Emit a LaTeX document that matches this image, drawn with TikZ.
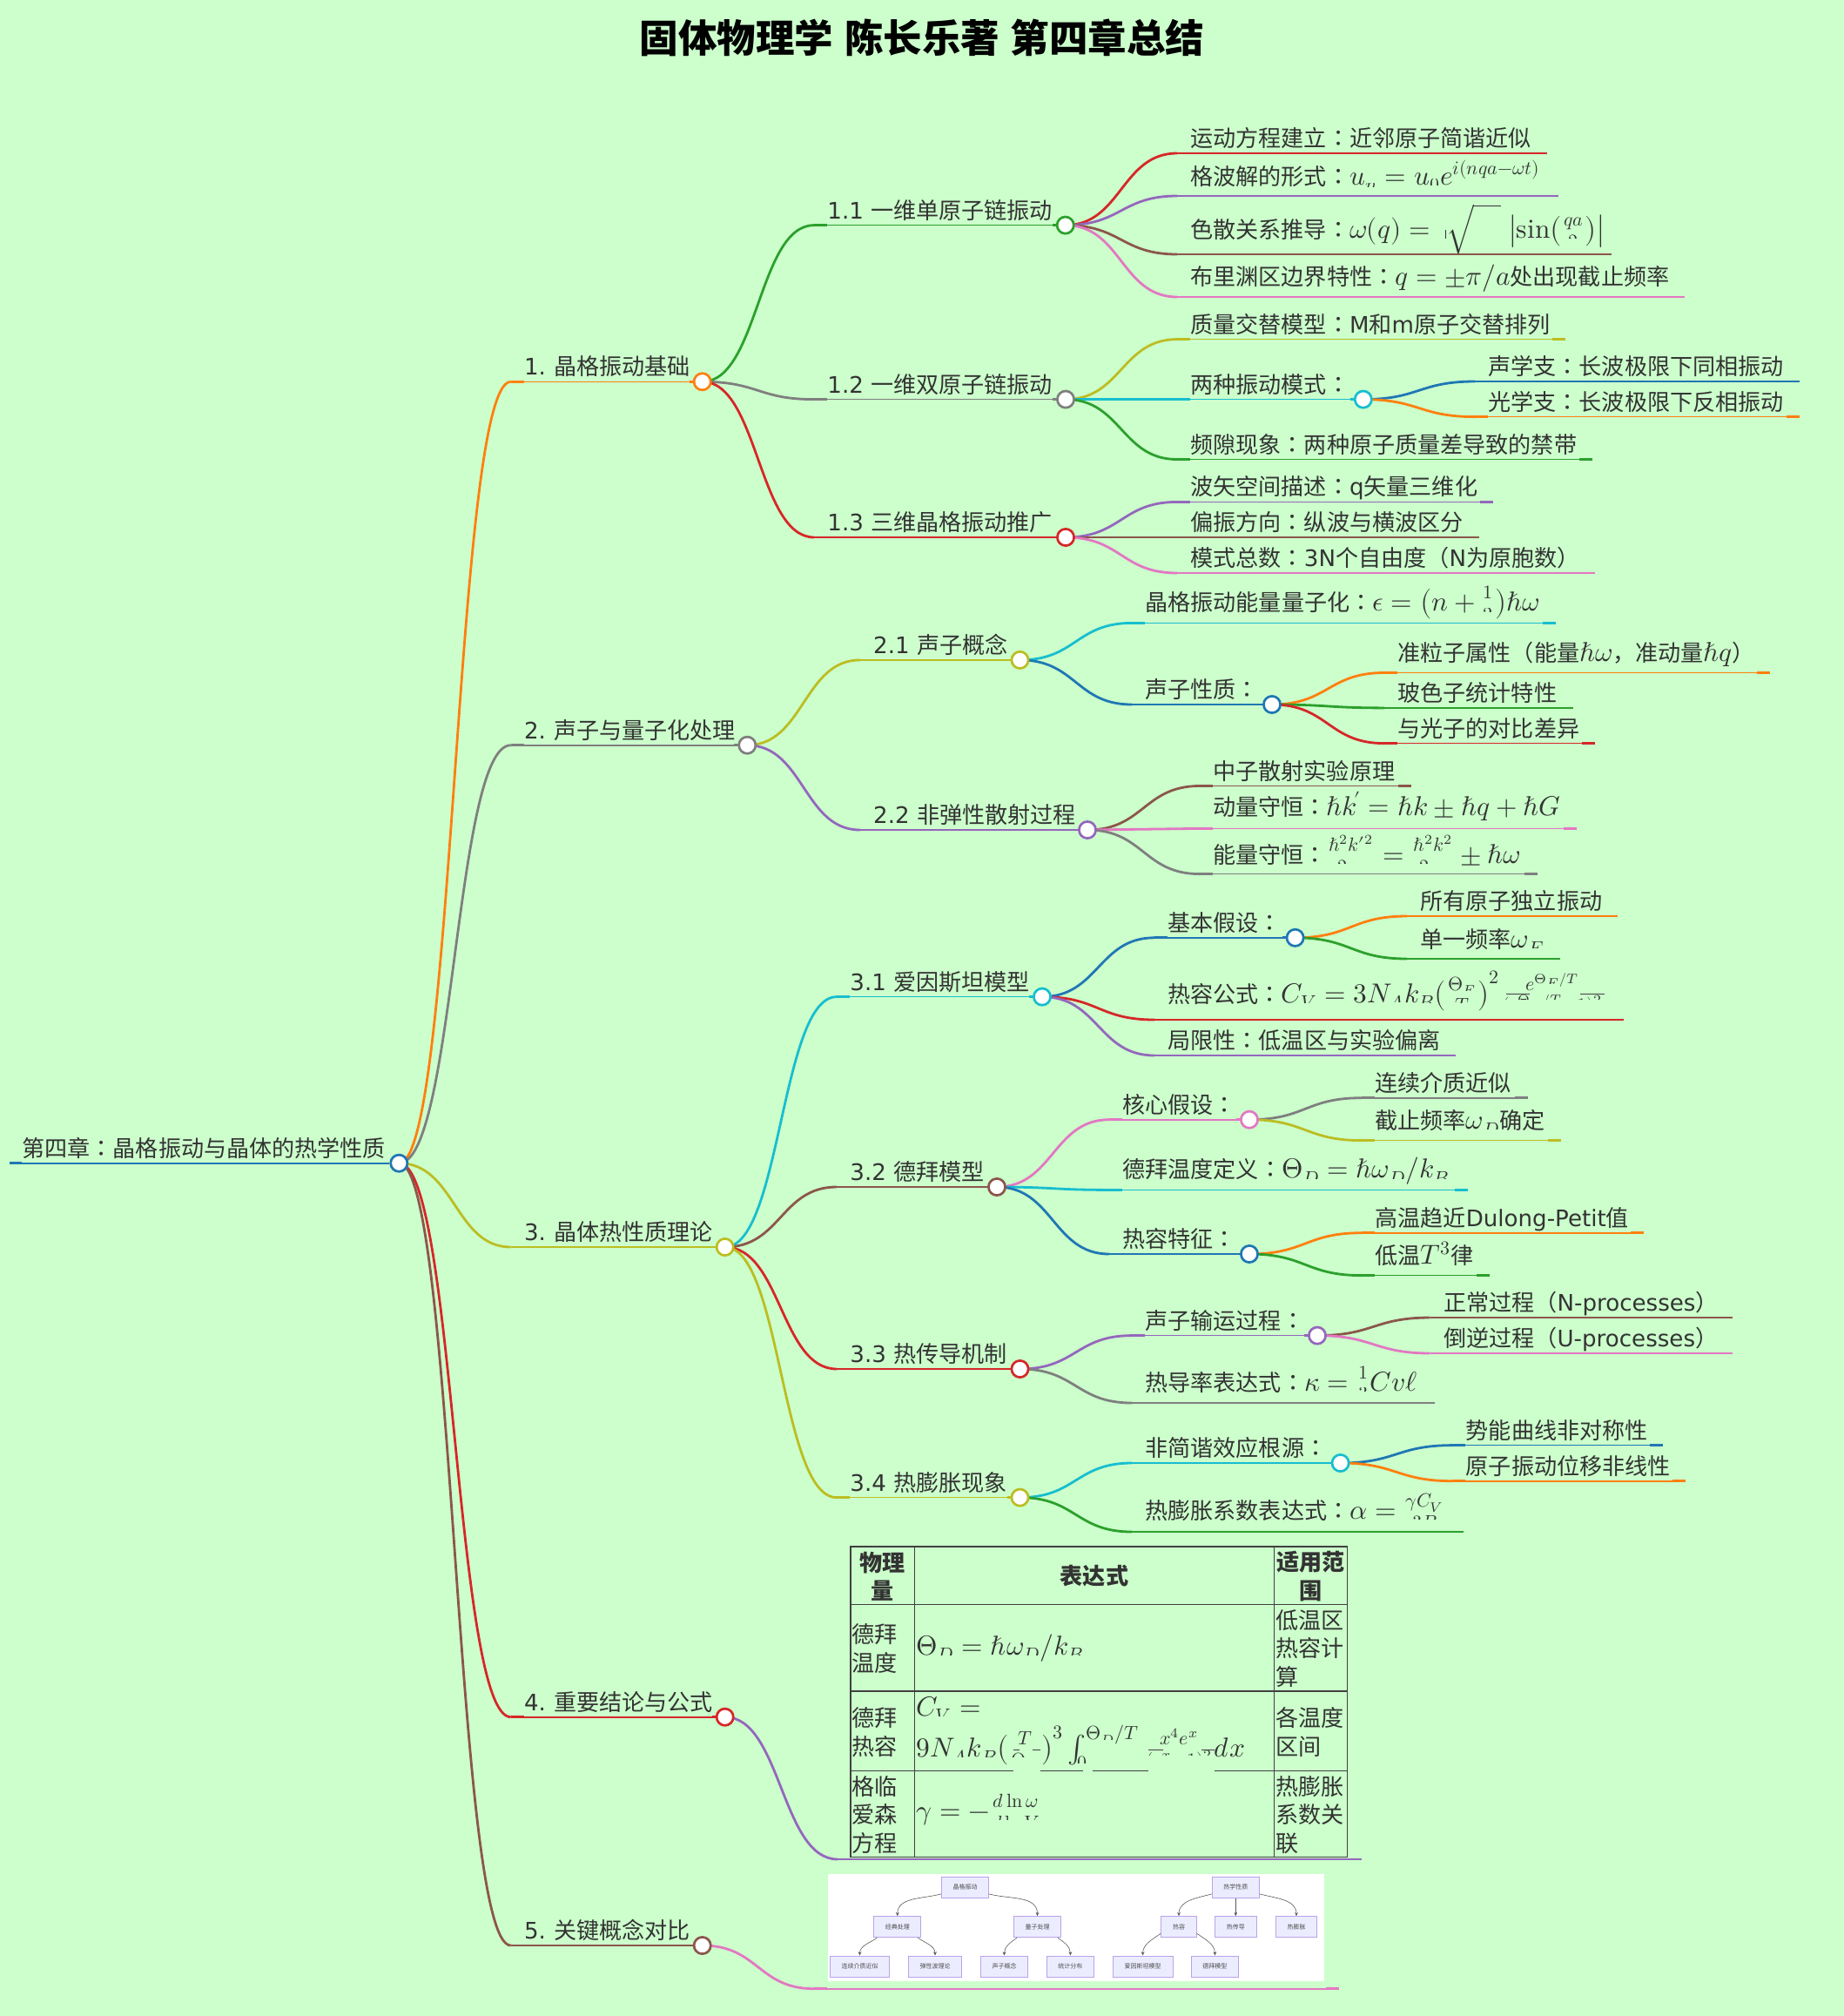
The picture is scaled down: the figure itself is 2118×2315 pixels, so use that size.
\documentclass[tikz,border=0pt]{standalone}
\usepackage{amsmath}
\usepackage{trimclip}
\usepackage{fontspec}
\usepackage{unicode-math}
\setmathfont{Latin Modern Math}
\setmainfont{Noto Sans CJK SC}
\newfontfamily\dejavu{DejaVu Sans}
\newfontfamily\tcfont{Noto Sans CJK TC}
\usetikzlibrary{calc,arrows.meta}
\pgfdeclarelayer{links}
\pgfsetlayers{links,main}

\definecolor{mmbg}{HTML}{CCFFCC}
\definecolor{mmblue}{HTML}{1F77B4}
\definecolor{mmorange}{HTML}{FF7F0E}
\definecolor{mmgreen}{HTML}{2CA02C}
\definecolor{mmred}{HTML}{D62728}
\definecolor{mmpurple}{HTML}{9467BD}
\definecolor{mmbrown}{HTML}{8C564B}
\definecolor{mmpink}{HTML}{E377C2}
\definecolor{mmgrey}{HTML}{7F7F7F}
\definecolor{mmolive}{HTML}{BCBD22}
\definecolor{mmcyan}{HTML}{17BECF}
\definecolor{boxfill}{HTML}{ECECFF}
\definecolor{boxline}{HTML}{B9A3EB}

\tikzset{
	linkline/.style={line width=1.4pt},
	stub/.style={line width=1.4pt},
	underline/.style={line width=0.8pt},
	dot/.style={circle,fill=white,line width=1.35pt,inner sep=0pt,minimum size=9.6pt},
	lbl/.style={anchor=base west,inner sep=0pt,text=black!80,font=\fontsize{13.05}{16.25}\selectfont},
	cell/.style={inner sep=0pt,text=black!80,font=\fontsize{13.05}{16.25}\selectfont},
	gridline/.style={line width=0.75pt,color=black!75},
	fracbar/.style={line width=0.45pt,color=black!75},
	minibox/.style={draw=boxline,fill=boxfill,line width=0.5pt,inner sep=0pt,minimum height=12pt,text=black!70,font=\fontsize{3.5}{4}\selectfont},
	miniedge/.style={line width=0.3pt,color=black!65,-{Stealth[length=2.2pt,width=1.9pt]}}
}

\newcommand{\la}[1]{{\dejavu #1}}
\newcommand{\cln}{{\tcfont ：}}
\newcommand{\fm}[1]{{\fontsize{15.7}{19}\selectfont$#1$}}
% cut text: only the upper part of a small symbol is printed
\newsavebox{\tcbox}
\newlength{\tcdim}
\def\cutr{.5}
\newcommand{\tcutaux}[2]{\sbox\tcbox{$#1#2$}\dp\tcbox=0pt\setlength{\tcdim}{\cutr\ht\tcbox}\raisebox{\tcdim}{\clipbox{0pt {\tcdim} 0pt 0pt}{\usebox\tcbox}}}
\newcommand{\tcut}[1]{\mathpalette\tcutaux{#1}}
\newcommand{\halffrac}[2]{\genfrac{}{}{0pt}{}{#1}{\def\cutr{.72}\tcut{#2}}}

\newcommand{\linkto}[3]{\coordinate (mid) at ($(#2.center)!.5!(#3)$);
	\draw[linkline,#1] (#2.center) .. controls (mid |- #2.center) and (mid |- #3) .. (#3);}
\newcommand{\stem}[6]{\coordinate (#1s) at (#4-15,#5);
	\coordinate (#1x) at (#4,#5);
	\coordinate (#1y) at (#6-15,#5);
	\coordinate (#1e) at (#6,#5);
	\begin{pgfonlayer}{links}
		\linkto{#3}{#2}{#1s}
		\draw[stub,#3] (#1s) -- (#1x);
		\draw[underline,#3] (#1x) -- (#1y);
		\draw[stub,#3] (#1y) -- (#1e);
	\end{pgfonlayer}}
\newcommand{\leafnode}[8][7.5]{\stem{#2}{#3}{#4}{#5}{#6}{#7}
	\node[lbl] (#2t) at (#5,#6-#1) {#8};}
\newcommand{\branch}[7]{\stem{#1}{#2}{#3}{#4}{#5}{#6}
	\node[dot,draw=#3] (#1) at (#6,#5) {};
	\node[lbl] (#1t) at (#4,#5-7.5) {#7};}

\begin{document}
\begin{tikzpicture}[x=0.5pt,y=-0.5pt]
	\begin{pgfonlayer}{links}
		\fill[mmbg] (0,0) rectangle (2118,2315);
	\end{pgfonlayer}
	\useasboundingbox (0,0) rectangle (2118,2315);

	\node[inner sep=0pt,text=black,font=\fontsize{22.25}{26}\selectfont\bfseries,anchor=base] (title) at (1059,60.5) {固体物理学\hspace{6.5pt}陈长乐著\hspace{6.5pt}第四章总结};

	%%%%% ROOT %%%%%
	\node[dot,draw=mmblue] (root) at (458.3,1335.7) {};
	\coordinate (roots) at (11,1335.7);
	\coordinate (rootx) at (25,1335.7);
	\draw[stub,mmblue] (roots) -- (rootx);
	\draw[underline,mmblue] (rootx) -- (root);
	\node[lbl] (roott) at (25,1328) {第四章\cln 晶格振动与晶体的热学性质};

	%%%%% 1 %%%%%
	\branch{a}{root}{mmorange}{601.7}{438.3}{806.7}{\la{1. }\hspace{-1pt}晶格振动基础}
	\branch{aa}{a}{mmgreen}{950}{258.6}{1223.7}{\la{1.1 }一维单原子链振动}
	\leafnode{aaa}{aa}{mmred}{1367}{176}{1777}{运动方程建立\cln 近邻原子简谐近似}
	\leafnode[13]{aab}{aa}{mmpurple}{1367}{225}{1790}{格波解的形式\cln \fm{u_{\tcut{n}}=u_{\tcut{0}}e^{i(nqa-\omega t)}}}
	\leafnode[18.5]{aac}{aa}{mmbrown}{1367}{292}{1850.5}{色散关系推导\cln \fm{\omega(q)=\mkern5mu\mathord{\rule{.5pt}{5pt}}\sqrt{\vphantom{\frac{4}{M}}\hspace{16pt}}\;\bigl|\mathop{\symup{sin}}\bigl(\halffrac{qa}{2}\bigr)\bigr|}}
	\leafnode[13.5]{aad}{aa}{mmpink}{1367}{341}{1934.7}{布里渊区边界特性\cln \fm{q=\pm\pi/a}处出现截止频率}

	\branch{ab}{a}{mmgrey}{950}{458.6}{1224}{\la{1.2 }一维双原子链振动}
	\leafnode{aba}{ab}{mmolive}{1367}{389.6}{1798}{质量交替模型\cln \la{M}和\la{m}原子交替排列}
	\branch{abb}{ab}{mmcyan}{1367}{458.6}{1565.8}{两种振动模式\cln}
	\leafnode{abba}{abb}{mmblue}{1709}{438}{2067}{声学支\cln 长波极限下同相振动}
	\leafnode{abbb}{abb}{mmorange}{1709}{478.6}{2067}{光学支\cln 长波极限下反相振动}
	\leafnode{abc}{ab}{mmgreen}{1367}{527.5}{1829}{频隙现象\cln 两种原子质量差导致的禁带}

	\branch{ac}{a}{mmred}{950}{617}{1224}{\la{1.3 }三维晶格振动推广}
	\leafnode{aca}{ac}{mmpurple}{1367}{576.4}{1715}{波矢空间描述\cln \la{q}矢量三维化}
	\leafnode{acb}{ac}{mmbrown}{1367}{617}{1699}{偏振方向\cln 纵波与横波区分}
	\leafnode{acc}{ac}{mmpink}{1367}{658}{1832}{模式总数\cln \la{3N}个自由度（\la{N}为原胞数）}

	%%%%% 2 %%%%%
	\branch{b}{root}{mmgrey}{601.7}{855.7}{858.3}{\la{2. }\hspace{-1pt}声子与量子化处理}
	\branch{ba}{b}{mmolive}{1002.8}{757.9}{1171.5}{\la{2.1 }声子概念}
	\leafnode[13.5]{baa}{ba}{mmcyan}{1315}{715.4}{1787}{晶格振动能量量子化\cln \fm{\epsilon=\bigl(n+\halffrac{1}{2}\bigr)\hbar\omega}}
	\branch{bab}{ba}{mmblue}{1315}{809}{1461}{声子性质\cln}
	\leafnode[13.5]{baba}{bab}{mmorange}{1605}{772.5}{2033}{准粒子属性（能量\fm{\hbar\omega}，准动量\fm{\hbar q}）}
	\leafnode{babb}{bab}{mmgreen}{1605}{812.9}{1806.6}{玻色子统计特性}
	\leafnode{babc}{bab}{mmred}{1605}{853.6}{1832}{与光子的对比差异}
	\branch{bb}{b}{mmpurple}{1002.8}{953}{1249}{\la{2.2 }非弹性散射过程}
	\leafnode{bba}{bb}{mmbrown}{1393}{902.5}{1621}{中子散射实验原理}
	\leafnode[14.5]{bbb}{bb}{mmpink}{1393}{951.4}{1811}{动量守恒\cln \fm{\hbar k\mkern-2mu'=\hbar k\pm\hbar q+\hbar G}}
	\leafnode[12]{bbc}{bb}{mmgrey}{1393}{1003.6}{1766}{能量守恒\cln \fm{\halffrac{\hbar^2k'^2}{2m}=\halffrac{\hbar^2k^2}{2m}\pm\hbar\omega}}

	%%%%% 3 %%%%%
	\branch{c}{root}{mmolive}{601.7}{1432}{832.7}{\la{3. }\hspace{-1pt}晶体热性质理论}
	\branch{ca}{c}{mmcyan}{976}{1144.6}{1197}{\la{3.1 }爱因斯坦模型}
	\branch{caa}{ca}{mmblue}{1341}{1076.8}{1487.6}{基本假设\cln}
	\leafnode{caaa}{caa}{mmorange}{1631}{1052}{1858}{所有原子独立振动}
	\leafnode[12.5]{caab}{caa}{mmgreen}{1631}{1101}{1792}{单一频率\fm{\omega_{\tcut{E}}}}
	\leafnode[20]{cab}{ca}{mmred}{1341}{1171}{1865}{热容公式\cln \fm{C_{\tcut{V}}=3N_{\tcut{A}}k_{\tcut{B}}\bigl(\halffrac{\Theta_{\tcut{E}}}{T}\bigr)^2\halffrac{e^{\Theta_{\tcut{E}}/T}}{(e^{\Theta_E/T}-1)^2}}}
	\leafnode{cac}{ca}{mmpurple}{1341}{1212}{1672}{局限性\cln 低温区与实验偏离}
	\draw[fracbar] (1730,1141.7) -- (1757.3,1141.7);
	\draw[fracbar] (1815,1141.7) -- (1842.7,1141.7);

	\branch{cb}{c}{mmbrown}{976}{1363}{1145}{\la{3.2 }德拜模型}
	\branch{cba}{cb}{mmpink}{1289}{1285.7}{1435}{核心假设\cln}
	\leafnode{cbaa}{cba}{mmgrey}{1579}{1260.7}{1754.5}{连续介质近似}
	\leafnode[13]{cbab}{cba}{mmolive}{1579}{1309.6}{1793}{截止频率\fm{\omega_{\tcut{D}}}确定}
	\leafnode[13.5]{cbb}{cb}{mmcyan}{1289}{1366.4}{1685.6}{德拜温度定义\cln \fm{\Theta_{\tcut{D}}=\hbar\omega_{\tcut{D}}/k_{\tcut{B}}}}
	\branch{cbc}{cb}{mmblue}{1289}{1440}{1435}{热容特征\cln}
	\leafnode{cbca}{cbc}{mmorange}{1579}{1415.7}{1888}{高温趋近\la{Dulong-Petit}值}
	\leafnode[13]{cbcb}{cbc}{mmgreen}{1579}{1464.6}{1710.5}{低温\fm{T^3}律}

	\branch{cc}{c}{mmred}{976}{1572}{1171.5}{\la{3.3 }热传导机制}
	\branch{cca}{cc}{mmpurple}{1315}{1533.6}{1513}{声子输运过程\cln}
	\leafnode{ccaa}{cca}{mmbrown}{1657.7}{1513}{1990}{正常过程（\la{N-processes}）}
	\leafnode{ccab}{cca}{mmpink}{1657.7}{1554}{1990}{倒逆过程（\la{U-processes}）}
	\leafnode[14]{ccb}{cc}{mmgrey}{1315}{1611}{1648}{热导率表达式\cln \fm{\kappa=\halffrac{1}{3}Cv\ell}}

	\branch{cd}{c}{mmolive}{976}{1719.6}{1171.5}{\la{3.4 }热膨胀现象}
	\branch{cda}{cd}{mmcyan}{1315}{1680}{1539.6}{非简谐效应根源\cln}
	\leafnode{cdaa}{cda}{mmblue}{1683.4}{1659.6}{1910}{势能曲线非对称性}
	\leafnode{cdab}{cda}{mmorange}{1683.4}{1700.7}{1936}{原子振动位移非线性}
	\leafnode[14.5]{cdb}{cd}{mmgreen}{1315}{1759}{1681}{热膨胀系数表达式\cln \fm{\alpha=\halffrac{\gamma C_V}{3B}}}

	%%%%% 4 %%%%%
	\branch{d}{root}{mmred}{601.7}{1971.7}{832.7}{\la{4. }\hspace{-1pt}重要结论与公式}
	\stem{da}{d}{mmpurple}{977}{2135}{1563.6}

	\draw[gridline] (977,1776) rectangle (1547.4,2132.7);
	\draw[gridline] (1050.3,1776) -- (1050.3,2132.7);
	\draw[gridline] (1463.7,1776) -- (1463.7,2132.7);
	\draw[gridline] (977,1842.7) -- (1547.4,1842.7);
	\draw[gridline] (977,1942) -- (1547.4,1942);
	\draw[gridline] (977,2033.7) -- (1163.5,2033.7);
	\draw[gridline] (1194.6,2033.7) -- (1243.5,2033.7);
	\draw[gridline] (1254.7,2033.7) -- (1319,2033.7);
	\draw[gridline] (1394.9,2033.7) -- (1547.4,2033.7);

	\node[cell,align=center,font=\fontsize{13.05}{16.25}\selectfont\bfseries] (thname) at (1013.6,1810) {物理\\量};
	\node[cell,align=center,font=\fontsize{13.05}{16.25}\selectfont\bfseries] (thexpr) at (1257,1810) {表达式};
	\node[cell,align=center,font=\fontsize{13.05}{16.25}\selectfont\bfseries] (thuse) at (1505.5,1810) {适用范\\围};

	\node[cell,anchor=west,align=left] (tda) at (978,1893) {德拜\\温度};
	\node[lbl,inner sep=0pt] (tdb) at (1052,1900) {\fm{\Theta_{\tcut{D}}=\hbar\omega_{\tcut{D}}/k_{\tcut{B}}}};
	\node[cell,anchor=west,align=left] (tdc) at (1465,1893) {低温区\\热容计\\算};

	\node[cell,anchor=west,align=left] (tea) at (978,1989) {德拜\\热容};
	\node[lbl] (teb) at (1052,1970) {\fm{C_{\tcut{V}}=}};
	\node[lbl] (tec) at (1052,2017.5) {\fm{9N_{\tcut{A}}k_{\tcut{B}}\bigl(\halffrac{T}{\Theta_D}\bigr)^3\int_{\tcut{0}}^{\Theta_{\tcut{D}}/T}\halffrac{x^4e^x}{(e^x-1)^2}dx}};
	\node[cell,anchor=west,align=left] (ted) at (1465,1989) {各温度\\区间};
	\draw[fracbar] (1164,2009.3) -- (1170.7,2009.3);
	\draw[fracbar] (1186,2009.3) -- (1195,2009.3);
	\draw[fracbar] (1319.3,2009.3) -- (1336,2009.3);
	\draw[fracbar] (1380,2009.3) -- (1395,2009.3);

	\node[cell,anchor=west,align=left] (tfa) at (978,2084) {格临\\爱森\\方程};
	\node[lbl] (tfb) at (1052,2089.5) {\fm{\gamma=-\halffrac{d\mathop{\symup{ln}}\omega}{d\mathop{\symup{ln}}V}}};
	\node[cell,anchor=west,align=left] (tfc) at (1465,2084) {热膨胀\\系数关\\联};

	%%%%% 5 %%%%%
	\branch{e}{root}{mmbrown}{601.7}{2234}{806.7}{\la{5. }\hspace{-1pt}关键概念对比}
	\stem{ea}{e}{mmpink}{950}{2283.7}{1538}

	\fill[white] (950.5,2152) rectangle (1521,2275.3);
	\node[minibox,minimum width=27pt] (vib) at (1108.5,2167) {晶格振动};
	\node[minibox,minimum width=27pt] (heat) at (1419.3,2167) {热学性质};
	\node[minibox,minimum width=27pt] (classic) at (1030.8,2212.7) {经典处理};
	\node[minibox,minimum width=27pt] (quant) at (1191.5,2212.7) {量子处理};
	\node[minibox,minimum width=20.4pt] (capa) at (1354,2212.7) {热容};
	\node[minibox,minimum width=23.7pt] (cond) at (1419.3,2212.7) {热传导};
	\node[minibox,minimum width=23.3pt] (expa) at (1489,2212.7) {热膨胀};
	\node[minibox,minimum width=34.2pt] (cont) at (987.5,2258) {连续介质近似};
	\node[minibox,minimum width=30.6pt] (elas) at (1074,2258) {弹性波理论};
	\node[minibox,minimum width=27pt] (phon) at (1153.5,2258) {声子概念};
	\node[minibox,minimum width=27pt] (stat) at (1229.4,2258) {统计分布};
	\node[minibox,minimum width=34.4pt] (eins) at (1312.6,2258) {爱因斯坦模型};
	\node[minibox,minimum width=27pt] (deby) at (1395.4,2258) {德拜模型};

	\draw[miniedge] (vib.196) to[out=195,in=90] (classic.north);
	\draw[miniedge] (vib.344) to[out=-15,in=90] (quant.north);
	\draw[miniedge] (classic.208) to[out=215,in=90] (cont.north);
	\draw[miniedge] (classic.332) to[out=-35,in=90] (elas.north);
	\draw[miniedge] (quant.208) to[out=215,in=90] (phon.north);
	\draw[miniedge] (quant.332) to[out=-35,in=90] (stat.north);
	\draw[miniedge] (heat.196) to[out=195,in=90] (capa.north);
	\draw[miniedge] (heat.south) -- (cond.north);
	\draw[miniedge] (heat.344) to[out=-15,in=90] (expa.north);
	\draw[miniedge] (capa.200) to[out=215,in=90] (eins.north);
	\draw[miniedge] (capa.340) to[out=-35,in=90] (deby.north);
\end{tikzpicture}
\end{document}
